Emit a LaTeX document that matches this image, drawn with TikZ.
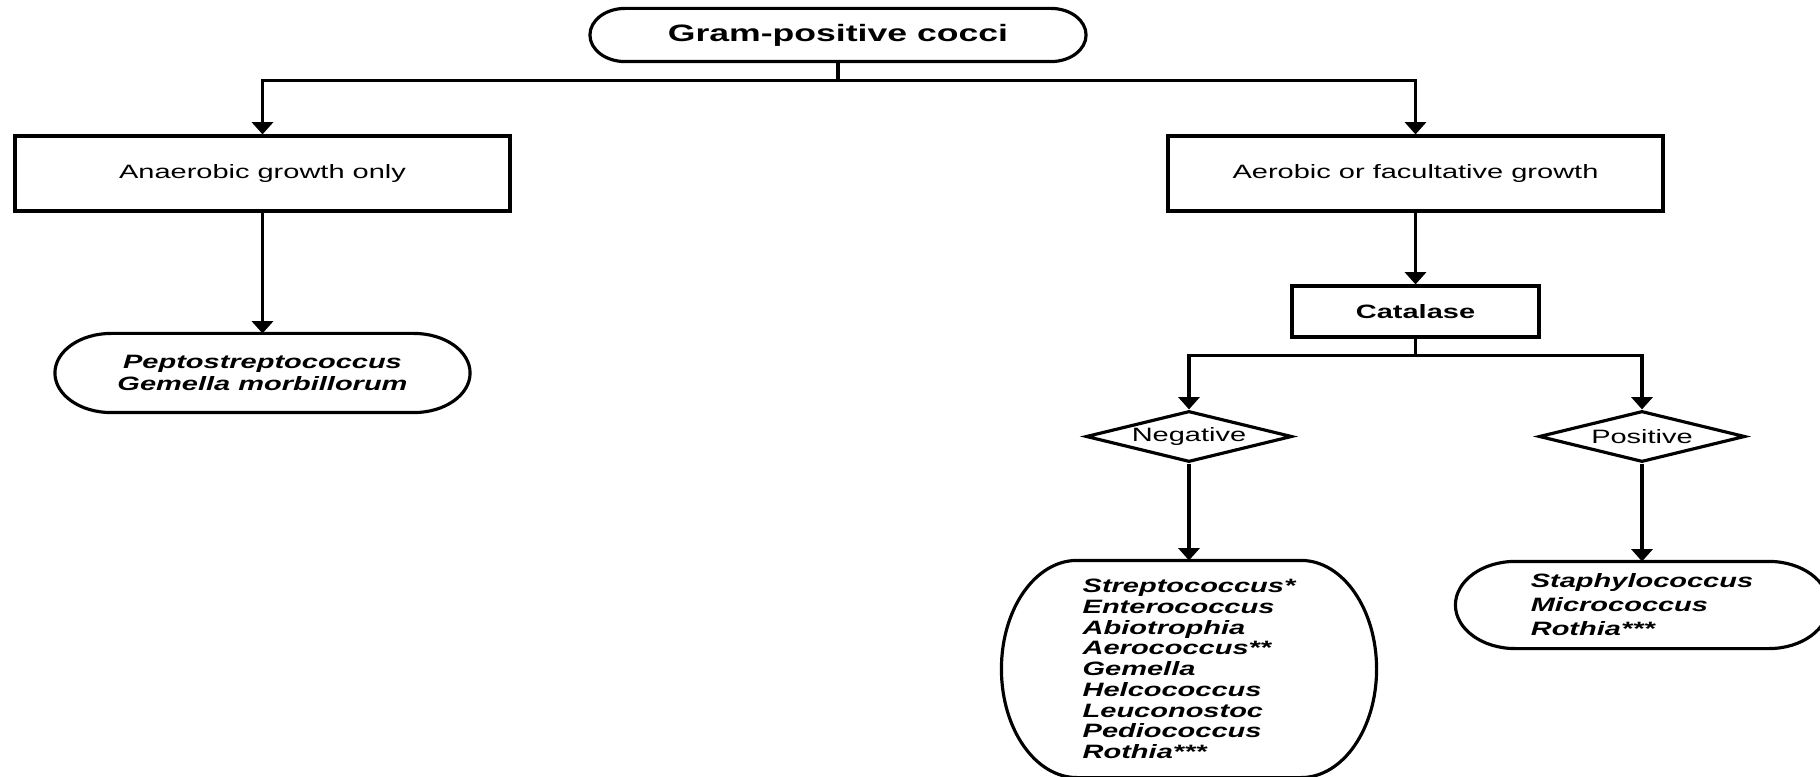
\documentclass[tikz,border=0pt]{standalone}
\usepackage{fontspec}
\setmainfont{Liberation Sans}[FakeStretch=1.5]
\usetikzlibrary{arrows.meta,shapes.geometric,calc}

\begin{document}
\begin{tikzpicture}[line width=1.8pt,
    box/.style={draw,rectangle,inner sep=0pt,font=\fontsize{11}{13}\selectfont},
    term/.style={rectangle,inner sep=0pt,align=center,font=\fontsize{11}{12.2}\selectfont\bfseries\itshape},
    test/.style={draw,diamond,aspect=4,inner sep=0pt,minimum width=4.12cm,minimum height=1.02cm,font=\fontsize{11}{13}\selectfont},
    link/.style={-{Triangle[width=12pt,length=7pt]}}]
  \useasboundingbox (0,0) rectangle (36.4,-15.54);
  % top and first split
  \node[term,minimum width=9.86cm,minimum height=1cm,font=\fontsize{13.5}{16}\selectfont\bfseries] (gpc) at (16.76,-0.7) {Gram-positive cocci};
  \node[box,minimum width=9.9cm,minimum height=1.5cm] (anaer) at (5.25,-3.47) {Anaerobic growth only};
  \node[box,minimum width=9.9cm,minimum height=1.5cm] (aer) at (28.31,-3.47) {Aerobic or facultative growth};
  \node[term,minimum width=8.24cm,minimum height=1.52cm] (pepto) at (5.25,-7.46) {Peptostreptococcus\\Gemella morbillorum};
  % catalase branch
  \node[box,minimum width=4.94cm,minimum height=1.02cm,font=\fontsize{11}{13}\selectfont\bfseries] (cat) at (28.31,-6.23) {Catalase};
  \node[test] (neg) at (23.78,-8.73) {Negative};
  \node[test] (pos) at (32.84,-8.73) {Positive};
  \node[term,align=left,minimum width=7.44cm,minimum height=4.28cm,font=\fontsize{11}{11.8}\selectfont\bfseries\itshape] (strep) at (23.78,-13.38)
    {Streptococcus*\\Enterococcus\\Abiotrophia\\Aerococcus**\\Gemella\\Helcococcus\\Leuconostoc\\Pediococcus\\Rothia***};
  \node[term,align=left,minimum width=7.4cm,minimum height=1.68cm,font=\fontsize{11}{13.7}\selectfont\bfseries\itshape] (staph) at (32.84,-12.1)
    {Staphylococcus\\Micrococcus\\Rothia***};
  % outlines with elliptic ends
  \foreach \nd/\rx in {gpc/20pt,pepto/32pt,strep/43pt,staph/34pt}
    \draw let \p1=(\nd.north east), \p2=(\nd.south west), \n1={(\y1-\y2)/2} in
      ({\x2+\rx},\y1) -- ({\x1-\rx},\y1)
      arc[start angle=90,end angle=-90,x radius=\rx,y radius=\n1]
      -- ({\x2+\rx},\y2)
      arc[start angle=270,end angle=90,x radius=\rx,y radius=\n1] -- cycle;
  % connectors
  \draw[link] (gpc.south) -- ++(0,-0.38) -| (anaer.north);
  \draw[link] (gpc.south) -- ++(0,-0.38) -| (aer.north);
  \draw[link] (anaer) -- (pepto);
  \draw[link] (aer) -- (cat);
  \draw[link] (cat.south) -- ++(0,-0.34) -| (neg.north);
  \draw[link] (cat.south) -- ++(0,-0.34) -| (pos.north);
  \draw[link] (neg) -- (strep);
  \draw[link] (pos) -- (staph);
\end{tikzpicture}
\end{document}
